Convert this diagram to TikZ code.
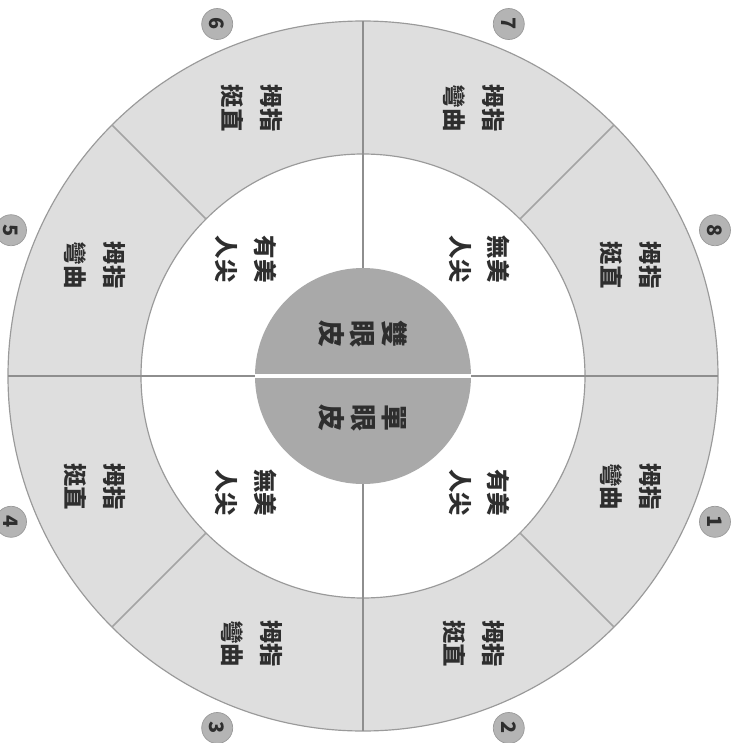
\documentclass[tikz,border=0pt]{standalone}
\usepackage{fontspec}
\newfontfamily\cjk{Noto Sans CJK TC}
\definecolor{ringgray}{HTML}{DEDEDE}
\definecolor{diskgray}{HTML}{A9A9A9}
\definecolor{divgray}{HTML}{8E8E8E}
\definecolor{diaggray}{HTML}{A4A4A4}
\definecolor{edgegray}{HTML}{9A9A9A}
\definecolor{numgray}{HTML}{B4B4B4}
\definecolor{txt}{HTML}{2E2E2E}
\begin{document}
\begin{tikzpicture}[x=0.03cm,y=0.03cm,
  lbl/.style={rotate=-90,align=center,text=txt,font=\cjk\bfseries\fontsize{20}{33}\selectfont,inner sep=0pt},
  ctr/.style={rotate=-90,align=center,text=txt,font=\cjk\bfseries\fontsize{23}{27}\selectfont,inner sep=0pt},
  numc/.style={circle,fill=numgray,draw=edgegray,line width=0.6pt,minimum size=0.93cm,inner sep=0pt,rotate=-90,text=txt,font=\cjk\bfseries\fontsize{17}{17}\selectfont},
  divline/.style={draw=divgray,line width=2.2pt},
  diagline/.style={draw=diaggray,line width=1.4pt}]
\useasboundingbox (-363,-367) rectangle (380,376);
% rings
\fill[ringgray] (0,0) circle (355);
\draw[edgegray,line width=1pt] (0,0) circle (355);
\fill[white] (0,0) circle (222);
\draw[edgegray,line width=1pt] (0,0) circle (222);
\foreach \a in {0,90,180,270} \draw[divline] (\a:106) -- (\a:355);
\foreach \a in {45,135,225,315} \draw[diagline] (\a:222) -- (\a:355);
% centre disk
\fill[diskgray] (0,0) circle (108);
\draw[white,line width=2.6pt] (-108,0) -- (108,0);
\node[ctr] (dbl) at (0,42) {雙\\眼\\皮};
\node[ctr] (sgl) at (0,-42) {單\\眼\\皮};
% white ring labels
\node[lbl] (q1) at (45:165) {無美\\人尖};
\node[lbl] (q2) at (135:165) {有美\\人尖};
\node[lbl] (q3) at (225:165) {無美\\人尖};
\node[lbl] (q4) at (315:165) {有美\\人尖};
% outer ring labels
\node[lbl] (s1) at (-22.5:290) {拇指\\彎曲};
\node[lbl] (s2) at (-67.5:290) {拇指\\挺直};
\node[lbl] (s3) at (-112.5:290) {拇指\\彎曲};
\node[lbl] (s4) at (-157.5:290) {拇指\\挺直};
\node[lbl] (s5) at (157.5:290) {拇指\\彎曲};
\node[lbl] (s6) at (112.5:290) {拇指\\挺直};
\node[lbl] (s7) at (67.5:290) {拇指\\彎曲};
\node[lbl] (s8) at (22.5:290) {拇指\\挺直};
% numbers
\node[numc] (n1) at (-22.5:381) {1};
\node[numc] (n2) at (-67.5:381) {2};
\node[numc] (n3) at (-112.5:381) {3};
\node[numc] (n4) at (-157.5:381) {4};
\node[numc] (n5) at (157.5:381) {5};
\node[numc] (n6) at (112.5:381) {6};
\node[numc] (n7) at (67.5:381) {7};
\node[numc] (n8) at (22.5:381) {8};
\end{tikzpicture}
\end{document}
